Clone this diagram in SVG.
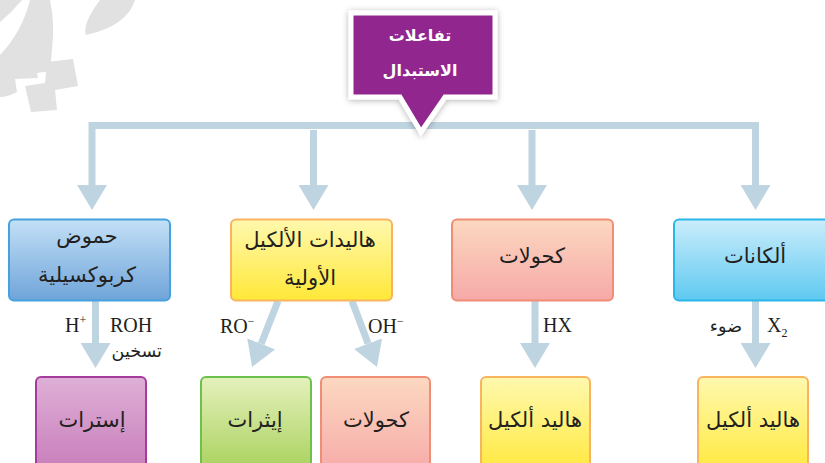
<svg xmlns="http://www.w3.org/2000/svg" width="825" height="463" viewBox="0 0 825 463">
<style>
.conn{fill:none;stroke:#bfd4e1;stroke-width:7}
.box{stroke-width:2}
.ar{font-family:"DejaVu Sans",sans-serif;font-size:21px;fill:#231f20;text-anchor:middle}
.ars{font-family:"DejaVu Sans",sans-serif;font-size:17.5px;fill:#231f20}
.lat{font-family:"Liberation Serif",serif;font-size:20px;fill:#231f20}
.sup{font-size:12px}
.title{font-family:"DejaVu Sans",sans-serif;font-size:16px;font-weight:bold;fill:#ffffff;text-anchor:middle}
.deco{fill:#e1e1e1}
</style>
<defs>
<marker id="ah" markerUnits="userSpaceOnUse" markerWidth="25" markerHeight="30" viewBox="0 0 25 30" refX="0" refY="15" orient="auto">
<path d="M0,0 L25,15 L0,30 Z" fill="#bfd4e1"/>
</marker>
<linearGradient id="gBlue" x1="0" y1="0" x2="0" y2="1"><stop offset="0" stop-color="#c3e0f6"/><stop offset="1" stop-color="#6fa4d9"/></linearGradient>
<linearGradient id="gYellow" x1="0" y1="0" x2="0" y2="1"><stop offset="0" stop-color="#fff8ae"/><stop offset="1" stop-color="#ffe838"/></linearGradient>
<linearGradient id="gPink" x1="0" y1="0" x2="0" y2="1"><stop offset="0" stop-color="#fcd8c0"/><stop offset="1" stop-color="#f6a9a8"/></linearGradient>
<linearGradient id="gCyan" x1="0" y1="0" x2="0" y2="1"><stop offset="0" stop-color="#cbedfb"/><stop offset="1" stop-color="#5ec9f0"/></linearGradient>
<linearGradient id="gPurple" x1="0" y1="0" x2="0" y2="1"><stop offset="0" stop-color="#deb0d6"/><stop offset="1" stop-color="#c77ab9"/></linearGradient>
<linearGradient id="gGreen" x1="0" y1="0" x2="0" y2="1"><stop offset="0" stop-color="#e4f1bc"/><stop offset="1" stop-color="#a6cf57"/></linearGradient>
<filter id="sh" x="-20%" y="-20%" width="140%" height="140%">
<feDropShadow dx="0" dy="1" stdDeviation="3" flood-color="#000000" flood-opacity="0.3"/>
</filter>
</defs>
<rect width="825" height="463" fill="#ffffff"/>
<g id="decoration">
<path class="deco" d="M0,0 L22,0 Q12,12 0,22 Z"/>
<path class="deco" d="M30,0 L50,0 Q55,22 52,50 L50,71 L37,73 L38,78 L15,79 L17,92 Q8,97 0,97 L0,55 Q22,32 30,0 Z"/>
<path class="deco" d="M25,86 L45,83 L47,62 L73,59 L78,86 L55,90 L57,110 L31,112 Z"/>
<path class="deco" d="M100,0 L135,0 Q127,26 86,35 Q82,24 100,0 Z"/>
</g>
<g id="connectors">
<path class="conn" d="M92,125.5 H759"/>
<path class="conn" d="M92,122 V185" marker-end="url(#ah)"/>
<path class="conn" d="M313.5,130 V185" marker-end="url(#ah)"/>
<path class="conn" d="M532,130 V185" marker-end="url(#ah)"/>
<path class="conn" d="M755.5,122 V185" marker-end="url(#ah)"/>
<path class="conn" d="M95.5,301 V343" marker-end="url(#ah)"/>
<path class="conn" d="M535,301 V343" marker-end="url(#ah)"/>
<path class="conn" d="M755.5,301 V343" marker-end="url(#ah)"/>
<path class="conn" d="M278,301 L261.2,343.8" marker-end="url(#ah)"/>
<path class="conn" d="M352,301 L368.1,343.6" marker-end="url(#ah)"/>
</g>
<g id="labels">
<text class="lat" x="65" y="332">H<tspan class="sup" dy="-8">+</tspan></text>
<text class="lat" x="110" y="332">ROH</text>
<text class="ars" x="162" y="357" text-anchor="end">تسخين</text>
<text class="lat" x="220" y="333">RO<tspan class="sup" dy="-8">−</tspan></text>
<text class="lat" x="368" y="333">OH<tspan class="sup" dy="-8">−</tspan></text>
<text class="lat" x="543" y="332">HX</text>
<text class="ars" x="742" y="332" text-anchor="end">ضوء</text>
<text class="lat" x="767" y="332">X<tspan class="sup" dy="5">2</tspan></text>
</g>
<g id="node-title">
<path d="M351,13 H495 V97 H445 L421,132 L400,97 H351 Z" fill="#92278f" stroke="#ffffff" stroke-width="5" stroke-linejoin="miter" filter="url(#sh)"/>
<text class="title" x="420" y="41">تفاعلات</text>
<text class="title" x="420" y="76">الاستبدال</text>
</g>
<g id="node-carboxylic">
<rect class="box" x="9" y="219.5" width="161" height="81" rx="5" fill="url(#gBlue)" stroke="#45a2df"/>
<text class="ar" x="87" y="243">حموض</text>
<text class="ar" x="87" y="282">كربوكسيلية</text>
</g>
<g id="node-alkylhalides-primary">
<rect class="box" x="231" y="219.5" width="161" height="81" rx="5" fill="url(#gYellow)" stroke="#f8b45e"/>
<text class="ar" x="310" y="247">هاليدات الألكيل</text>
<text class="ar" x="310" y="285">الأولية</text>
</g>
<g id="node-alcohols">
<rect class="box" x="452" y="219.5" width="161" height="81" rx="5" fill="url(#gPink)" stroke="#f08e75"/>
<text class="ar" x="532" y="263">كحولات</text>
</g>
<g id="node-alkanes">
<rect class="box" x="674" y="219.5" width="165" height="81" rx="5" fill="url(#gCyan)" stroke="#2bb6e9"/>
<text class="ar" x="755" y="263">ألكانات</text>
</g>
<g id="node-esters">
<rect class="box" x="36" y="377" width="110" height="100" rx="5" fill="url(#gPurple)" stroke="#a53b9f"/>
<text class="ar" x="92" y="427">إسترات</text>
</g>
<g id="node-ethers">
<rect class="box" x="201" y="377" width="110" height="100" rx="5" fill="url(#gGreen)" stroke="#6cc04c"/>
<text class="ar" x="255" y="427">إيثرات</text>
</g>
<g id="node-alcohols2">
<rect class="box" x="321" y="377" width="109" height="100" rx="5" fill="url(#gPink)" stroke="#f08e75"/>
<text class="ar" x="376" y="427">كحولات</text>
</g>
<g id="node-alkylhalide1">
<rect class="box" x="481" y="377" width="109" height="100" rx="5" fill="url(#gYellow)" stroke="#f8b45e"/>
<text class="ar" x="535" y="427">هاليد ألكيل</text>
</g>
<g id="node-alkylhalide2">
<rect class="box" x="698" y="377" width="110" height="100" rx="5" fill="url(#gYellow)" stroke="#f8b45e"/>
<text class="ar" x="753" y="427">هاليد ألكيل</text>
</g>
</svg>
